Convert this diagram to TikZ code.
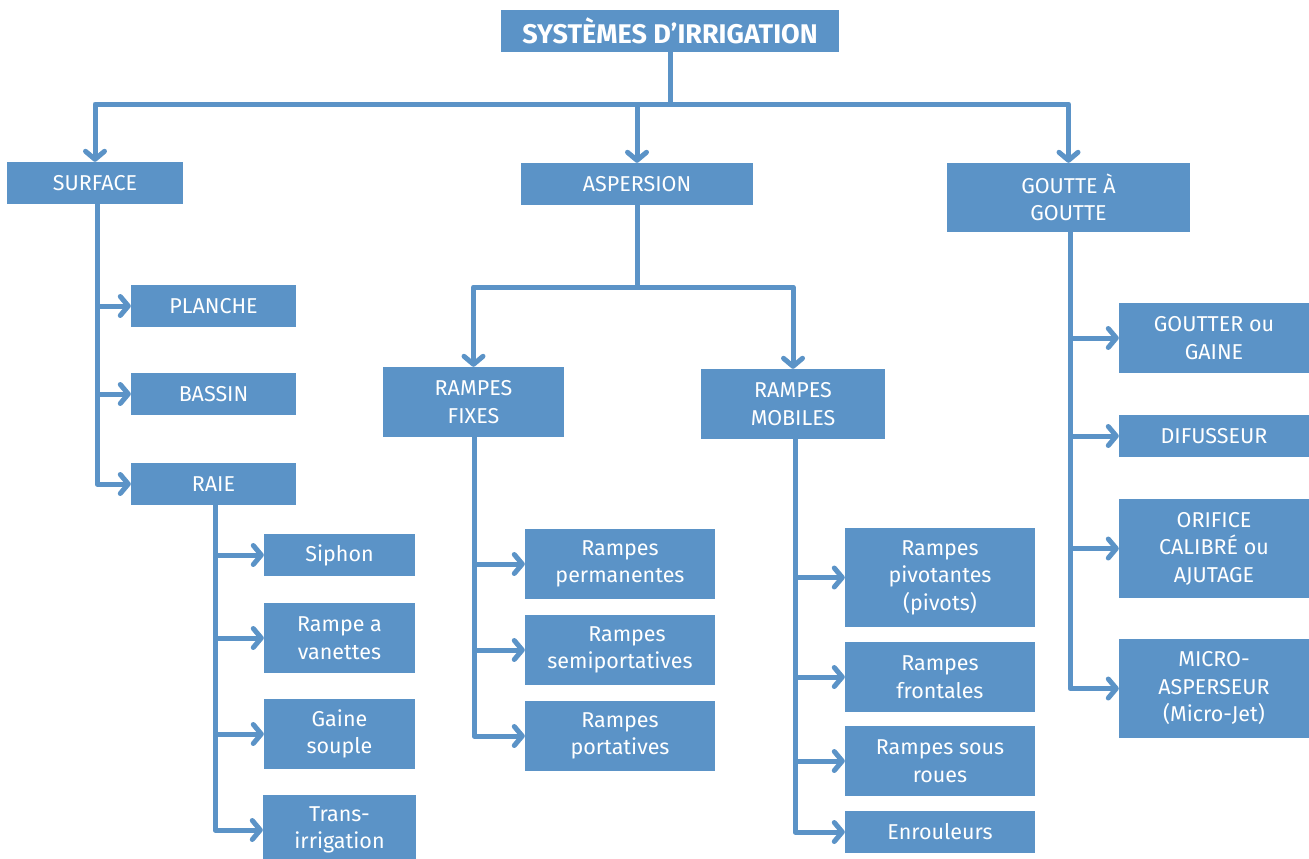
\documentclass[tikz,border=0pt]{standalone}
\usepackage{fontspec}
\setmainfont{Fira Sans}
\usetikzlibrary{arrows.meta}
\definecolor{bl}{HTML}{5B93C7}
\begin{document}
\begin{tikzpicture}[x=1pt,y=-1pt,
  box/.style={fill=bl, text=white, inner sep=0pt, align=center,
    font=\fontsize{21.5}{27.5}\selectfont},
  arr/.style={draw=bl, line width=5pt, line cap=round, line join=round,
    -{Straight Barb[length=8pt,width=19pt,line cap=round,line join=round]}},
  ln/.style={draw=bl, line width=5pt, line cap=round, line join=round}]
\useasboundingbox (0,0) rectangle (1309,859);
% top
\node[box, minimum width=338pt, minimum height=42pt, font=\bfseries\fontsize{27}{30}\selectfont] (title) at (670,31) {SYSTÈMES D’IRRIGATION};
\node[box, minimum width=176pt, minimum height=42pt] (surface) at (95,183) {\raisebox{-2pt}{SURFACE}};
\node[box, minimum width=232pt, minimum height=42pt] (aspersion) at (637,184) {\raisebox{-2pt}{ASPERSION}};
\node[box, minimum width=243pt, minimum height=69pt] (goutte) at (1068.5,197.5) {GOUTTE À\\GOUTTE};
% surface children
\node[box, minimum width=165pt, minimum height=42pt] (planche) at (213.5,306) {\raisebox{-2pt}{PLANCHE}};
\node[box, minimum width=165pt, minimum height=42pt] (bassin) at (213.5,394) {\raisebox{-2pt}{BASSIN}};
\node[box, minimum width=165pt, minimum height=42pt] (raie) at (213.5,484) {\raisebox{-2pt}{RAIE}};
\node[box, minimum width=151pt, minimum height=42pt] (siphon) at (339.5,555) {\raisebox{-2pt}{Siphon}};
\node[box, minimum width=151pt, minimum height=70pt] (vanettes) at (339.5,638) {Rampe a\\vanettes};
\node[box, minimum width=151pt, minimum height=70pt] (gaine) at (339.5,734) {Gaine\\souple};
\node[box, minimum width=153pt, minimum height=70pt] (trans) at (339.5,830) {Trans-\\irrigation};
% aspersion children
\node[box, minimum width=181pt, minimum height=70pt] (fixes) at (473.5,402) {RAMPES\\FIXES};
\node[box, minimum width=184pt, minimum height=70pt] (mobiles) at (793,404) {RAMPES\\MOBILES};
\node[box, minimum width=190pt, minimum height=70pt] (perm) at (620,564) {Rampes\\permanentes};
\node[box, minimum width=190pt, minimum height=70pt] (semi) at (620,650) {\hspace*{14pt}Rampes\\semiportatives};
\node[box, minimum width=190pt, minimum height=70pt] (port) at (620,736) {Rampes\\portatives};
\node[box, minimum width=190pt, minimum height=99pt] (pivot) at (940,577.5) {Rampes\\pivotantes\\(pivots)};
\node[box, minimum width=190pt, minimum height=70pt] (front) at (940,677) {Rampes\\frontales};
\node[box, minimum width=190pt, minimum height=70pt] (roues) at (940,761) {Rampes sous\\roues};
\node[box, minimum width=190pt, minimum height=42pt] (enroul) at (940,832) {\raisebox{-2pt}{Enrouleurs}};
% goutte children
\node[box, minimum width=190pt, minimum height=70pt] (goutter) at (1214,338) {GOUTTER ou\\GAINE};
\node[box, minimum width=190pt, minimum height=42pt] (difus) at (1214,436) {\raisebox{-2pt}{DIFUSSEUR}};
\node[box, minimum width=190pt, minimum height=99pt] (orifice) at (1214,548.5) {ORIFICE\\CALIBRÉ ou\\AJUTAGE};
\node[box, minimum width=190pt, minimum height=99pt] (micro) at (1214,688.5) {MICRO-\\ASPERSEUR\\(Micro-Jet)};
% connectors
\coordinate (bus) at (670,104);
\draw[ln] (title.south) -- (bus);
\draw[arr] (bus) -| (surface.north);
\draw[arr] (bus) -| (aspersion.north);
\draw[arr] (bus) -| (goutte.north);
\coordinate (abus) at (637,287);
\draw[ln] (aspersion.south) -- (abus);
\draw[arr] (abus) -| (fixes.north);
\draw[arr] (abus) -| (mobiles.north);
\foreach \p/\c/\dx in {surface/planche/2, surface/bassin/2, surface/raie/2,
  raie/siphon/1.5, raie/vanettes/1.5, raie/gaine/1.5, raie/trans/1.5,
  fixes/perm/0.5, fixes/semi/0.5, fixes/port/0.5,
  mobiles/pivot/2, mobiles/front/2, mobiles/roues/2, mobiles/enroul/2,
  goutte/goutter/1.5, goutte/difus/1.5, goutte/orifice/1.5, goutte/micro/1.5}
  \draw[arr] ([xshift=\dx pt]\p.south) |- (\c.west);
\end{tikzpicture}
\end{document}
